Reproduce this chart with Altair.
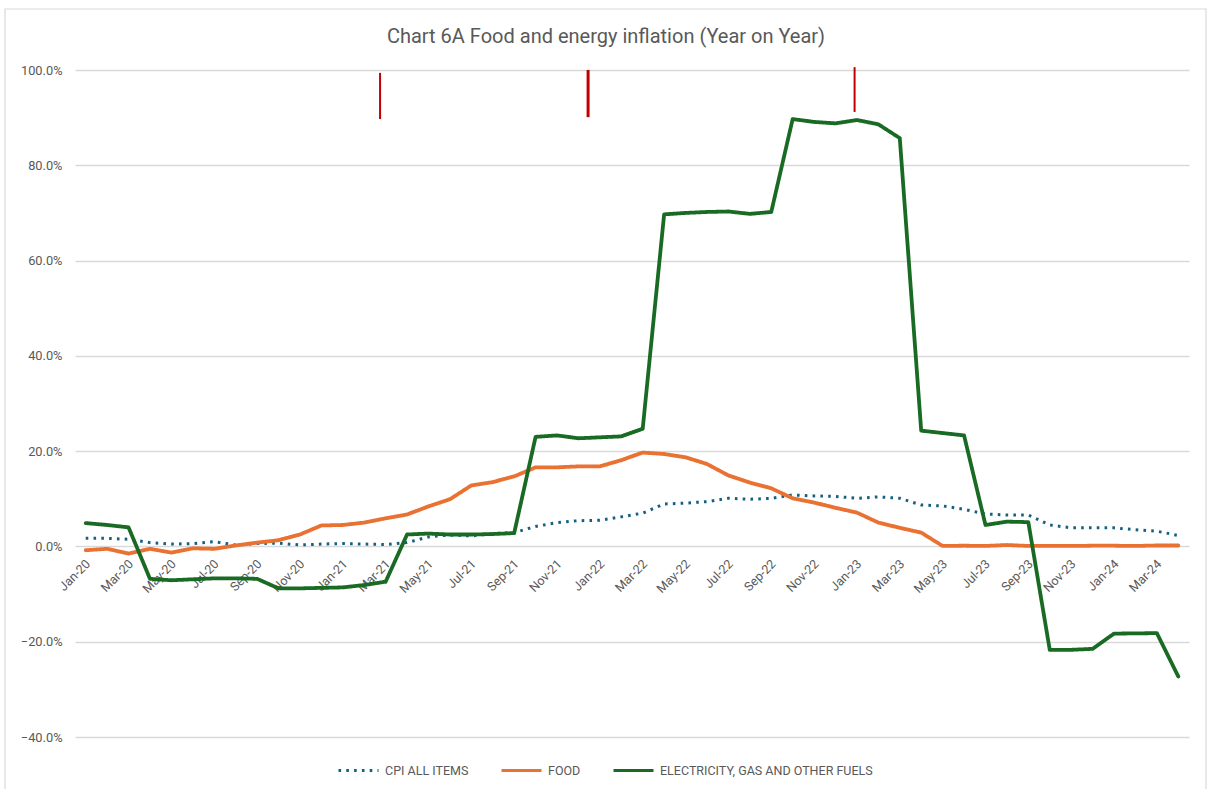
import json
import altair as alt
import pandas as pd

# Monthly categories, Jan-20 .. Apr-24
months = [
    "Jan-20", "Feb-20", "Mar-20", "Apr-20", "May-20", "Jun-20", "Jul-20", "Aug-20", "Sep-20", "Oct-20", "Nov-20", "Dec-20",
    "Jan-21", "Feb-21", "Mar-21", "Apr-21", "May-21", "Jun-21", "Jul-21", "Aug-21", "Sep-21", "Oct-21", "Nov-21", "Dec-21",
    "Jan-22", "Feb-22", "Mar-22", "Apr-22", "May-22", "Jun-22", "Jul-22", "Aug-22", "Sep-22", "Oct-22", "Nov-22", "Dec-22",
    "Jan-23", "Feb-23", "Mar-23", "Apr-23", "May-23", "Jun-23", "Jul-23", "Aug-23", "Sep-23", "Oct-23", "Nov-23", "Dec-23",
    "Jan-24", "Feb-24", "Mar-24", "Apr-24",
]

# Year-on-year inflation, percent
cpi_all = [
    1.7, 1.7, 1.5, 0.8, 0.5, 0.6, 1.0, 0.3, 0.6, 0.7, 0.3, 0.5,
    0.6, 0.5, 0.4, 0.8, 2.0, 2.4, 2.2, 2.7, 2.9, 4.2, 5.0, 5.4,
    5.5, 6.2, 7.0, 8.9, 9.1, 9.4, 10.1, 9.9, 10.1, 10.8, 10.6, 10.5,
    10.1, 10.4, 10.1, 8.7, 8.5, 7.8, 6.8, 6.6, 6.6, 4.5, 3.9, 3.9,
    3.9, 3.5, 3.2, 2.3,
]
food = [
    -0.8, -0.5, -1.5, -0.5, -1.3, -0.4, -0.5, 0.2, 0.8, 1.3, 2.5, 4.4,
    4.5, 5.0, 5.9, 6.7, 8.4, 9.9, 12.8, 13.5, 14.7, 16.6, 16.6, 16.8,
    16.8, 18.1, 19.7, 19.4, 18.7, 17.3, 14.9, 13.4, 12.2, 10.1, 9.2, 8.1,
    7.1, 5.0, 3.9, 2.9, 0.1, 0.15, 0.1, 0.3, 0.1, 0.1, 0.1, 0.15,
    0.15, 0.1, 0.2, 0.2,
]
energy = [
    4.9, 4.5, 4.0, -6.8, -7.1, -6.9, -6.7, -6.7, -6.8, -8.8, -8.8, -8.7,
    -8.6, -8.1, -7.4, 2.5, 2.7, 2.5, 2.5, 2.6, 2.8, 23.0, 23.3, 22.7,
    22.9, 23.1, 24.7, 69.7, 70.0, 70.2, 70.3, 69.8, 70.2, 89.7, 89.1, 88.8,
    89.5, 88.6, 85.7, 24.3, 23.8, 23.3, 4.5, 5.2, 5.1, -21.7, -21.7, -21.5,
    -18.3, -18.25, -18.2, -27.3,
]

series_names = ["CPI ALL ITEMS", "FOOD", "ELECTRICITY, GAS AND OTHER FUELS"]
series_colors = ["#156082", "#E97132", "#196B24"]
series_dash = [[2.6, 5.2], [1, 0], [1, 0]]

# Red marker strokes (month position, top and bottom in percent, stroke width)
marker_pos = [13.74, 23.45, 35.89]
marker_top = [99.4, 100.0, 100.6]
marker_bottom = [89.7, 90.1, 91.2]
marker_width = [2, 3, 2]

y_ticks = [-40, -20, 0, 20, 40, 60, 80, 100]

rows = []
for name, vals in zip(series_names, [cpi_all, food, energy]):
    for i, v in enumerate(vals):
        rows.append({"idx": i, "month": months[i], "series": name, "value": v / 100})
df = pd.DataFrame(rows)

markers = pd.DataFrame({
    "idx": marker_pos,
    "top": [v / 100 for v in marker_top],
    "bottom": [v / 100 for v in marker_bottom],
    "w": marker_width,
})

W, H = 1114, 667
lo, hi = y_ticks[0] / 100, y_ticks[-1] / 100
zero_shift = -H * (0 - lo) / (hi - lo)

label_expr = json.dumps(months) + "[datum.value]"

x_enc = alt.X(
    "idx:Q",
    scale=alt.Scale(domain=[-0.5, len(months) - 0.5], nice=False, zero=False),
    axis=alt.Axis(
        values=list(range(0, len(months), 2)),
        labelExpr=label_expr,
        labelAngle=-45,
        labelAlign="right",
        labelBaseline="middle",
        labelPadding=15,
        labelOffset=2,
        labelFontSize=12.5,
        labelColor="#595959",
        grid=False,
        domain=False,
        ticks=False,
        offset=zero_shift,
        title=None,
    ),
)
y_enc = alt.Y(
    "value:Q",
    scale=alt.Scale(domain=[lo, hi], nice=False, zero=False),
    axis=alt.Axis(
        values=[v / 100 for v in y_ticks],
        format=".1%",
        labelFontSize=12.8,
        labelColor="#595959",
        labelPadding=13,
        grid=True,
        gridColor="#d9d9d9",
        gridWidth=1.3,
        domain=False,
        ticks=False,
        title=None,
    ),
)
color_enc = alt.Color(
    "series:N",
    scale=alt.Scale(domain=series_names, range=series_colors),
    sort=series_names,
    legend=alt.Legend(
        title=None,
        orient="none",
        legendX=262,
        legendY=679,
        direction="horizontal",
        symbolType="stroke",
        symbolSize=1600,
        symbolStrokeWidth=3,
        labelFontSize=12.5,
        labelColor="#595959",
        labelOffset=5,
        labelLimit=400,
        columnPadding=26,
    ),
)
dash_enc = alt.StrokeDash(
    "series:N",
    scale=alt.Scale(domain=series_names, range=series_dash),
    sort=series_names,
)

base = alt.Chart(df).encode(x=x_enc, y=y_enc, color=color_enc, strokeDash=dash_enc, order="idx:Q")

cpi_line = base.transform_filter(alt.datum.series == series_names[0]).mark_line(
    strokeWidth=3, strokeCap="butt"
)
other_lines = base.transform_filter(alt.datum.series != series_names[0]).mark_line(
    strokeWidth=3.8, strokeJoin="round", strokeCap="round"
)

marker_rules = alt.Chart(markers).mark_rule(color="#C00000").encode(
    x=alt.X("idx:Q"),
    y=alt.Y("top:Q"),
    y2="bottom:Q",
    strokeWidth=alt.StrokeWidth("w:Q", scale=None),
)

# light outer frame around the whole chart
frame = alt.Chart(alt.Data(values=[{}])).mark_rect(
    fillOpacity=0, stroke="#d9d9d9", strokeWidth=1.2
).encode(
    x=alt.value(-70), x2=alt.value(W + 17), y=alt.value(-61), y2=alt.value(H + 60)
)

chart = alt.layer(frame, cpi_line, other_lines, marker_rules).properties(
    width=W,
    height=H,
    title=alt.TitleParams(
        "Chart 6A Food and energy inflation (Year on Year)",
        anchor="middle",
        frame="group",
        baseline="bottom",
        dx=-26,
        offset=-59,
        fontSize=20,
        fontWeight="normal",
        color="#595959",
    ),
    autosize=alt.AutoSizeParams(type="none"),
    padding={"left": 75, "top": 70, "right": 19, "bottom": 52},
).configure(
    font="Roboto",
).configure_view(
    stroke=None,
).configure_axis(
    labelFont="Roboto",
).configure_legend(
    labelFont="Roboto",
)

chart.save("out.html", embed_options={"renderer": "svg", "actions": False})
